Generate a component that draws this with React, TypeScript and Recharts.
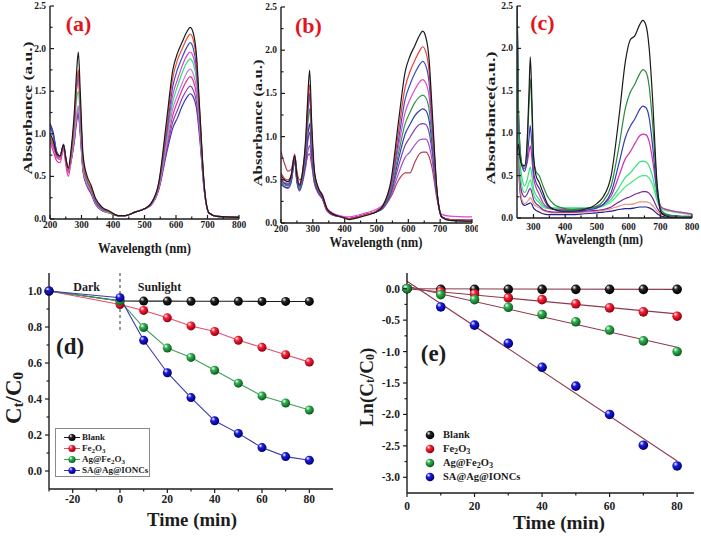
import React from 'react';
import { LineChart, Line, XAxis, YAxis, Label, ReferenceDot, ReferenceLine, Legend } from 'recharts';

const FONT = '"Liberation Serif", "DejaVu Serif", serif';
const INK = '#1c1c1c';
const AXIS = { stroke: INK, strokeWidth: 1.4 };

// ---------- (a) and (b): absorbance spectra ----------
const wlAB = [200, 210, 222, 232, 243, 250, 258, 268, 278, 284, 290, 296, 305, 318, 330, 345, 365, 390, 415, 440, 470, 500, 520, 545, 570, 590, 605, 620, 635, 645, 655, 665, 675, 690, 705, 730, 800];

const aBlack = [1.0, 0.92, 0.76, 0.74, 0.87, 0.72, 0.6, 0.85, 1.3, 1.7, 1.96, 1.5, 0.75, 0.5, 0.4, 0.24, 0.14, 0.09, 0.04, 0.04, 0.08, 0.12, 0.18, 0.42, 1.15, 1.75, 1.95, 2.08, 2.2, 2.25, 2.18, 1.92, 1.3, 0.38, 0.07, 0.03, 0.02];
const aRed = [0.95, 0.88, 0.74, 0.72, 0.86, 0.7, 0.57, 0.8, 1.2, 1.55, 1.75, 1.35, 0.7, 0.46, 0.37, 0.22, 0.13, 0.08, 0.04, 0.04, 0.08, 0.12, 0.18, 0.41, 1.08, 1.66, 1.87, 2.0, 2.12, 2.17, 2.1, 1.86, 1.27, 0.37, 0.07, 0.03, 0.02];
const aBlue = [1.12, 1.0, 0.78, 0.74, 0.88, 0.72, 0.58, 0.8, 1.18, 1.52, 1.72, 1.33, 0.68, 0.45, 0.36, 0.2, 0.12, 0.08, 0.04, 0.04, 0.08, 0.12, 0.17, 0.4, 1.02, 1.56, 1.76, 1.9, 2.02, 2.07, 2.0, 1.78, 1.23, 0.36, 0.07, 0.03, 0.02];
const aMagenta = [0.92, 0.85, 0.72, 0.7, 0.85, 0.68, 0.54, 0.78, 1.15, 1.5, 1.68, 1.3, 0.66, 0.44, 0.35, 0.2, 0.12, 0.08, 0.04, 0.04, 0.08, 0.12, 0.17, 0.39, 0.97, 1.46, 1.64, 1.8, 1.92, 1.96, 1.9, 1.7, 1.19, 0.36, 0.07, 0.03, 0.02];
const aGreen = [1.0, 0.9, 0.75, 0.72, 0.86, 0.7, 0.56, 0.76, 1.08, 1.38, 1.5, 1.18, 0.62, 0.42, 0.34, 0.19, 0.11, 0.07, 0.04, 0.04, 0.08, 0.12, 0.17, 0.38, 0.93, 1.38, 1.56, 1.72, 1.84, 1.88, 1.82, 1.63, 1.15, 0.35, 0.07, 0.03, 0.02];
const aOrchid = [0.95, 0.86, 0.72, 0.7, 0.84, 0.68, 0.55, 0.72, 1.0, 1.22, 1.33, 1.08, 0.6, 0.41, 0.33, 0.18, 0.11, 0.07, 0.04, 0.04, 0.08, 0.12, 0.16, 0.37, 0.88, 1.3, 1.46, 1.6, 1.72, 1.76, 1.7, 1.53, 1.1, 0.34, 0.07, 0.03, 0.02];
const aPink = [0.9, 0.8, 0.68, 0.66, 0.82, 0.64, 0.5, 0.7, 0.98, 1.2, 1.3, 1.05, 0.58, 0.4, 0.32, 0.18, 0.1, 0.07, 0.04, 0.04, 0.08, 0.12, 0.16, 0.36, 0.84, 1.22, 1.38, 1.52, 1.63, 1.67, 1.62, 1.46, 1.06, 0.34, 0.07, 0.03, 0.02];
const aPurple = [1.08, 0.98, 0.76, 0.72, 0.86, 0.7, 0.56, 0.7, 0.95, 1.16, 1.25, 1.02, 0.56, 0.39, 0.31, 0.17, 0.1, 0.07, 0.04, 0.04, 0.08, 0.12, 0.16, 0.35, 0.8, 1.14, 1.28, 1.42, 1.52, 1.56, 1.51, 1.37, 1.0, 0.33, 0.07, 0.03, 0.02];
const aNavy = [1.12, 1.02, 0.78, 0.74, 0.87, 0.72, 0.58, 0.7, 0.93, 1.13, 1.22, 1.0, 0.55, 0.38, 0.3, 0.17, 0.1, 0.07, 0.04, 0.04, 0.08, 0.12, 0.16, 0.34, 0.77, 1.07, 1.19, 1.33, 1.43, 1.47, 1.43, 1.3, 0.96, 0.32, 0.07, 0.03, 0.02];
const specA = [aNavy, aPurple, aPink, aOrchid, aGreen, aMagenta, aBlue, aRed, aBlack];
const colorsA = ['#3838b8', '#8a3fb0', '#e0309a', '#c080e0', '#30e070', '#d040d8', '#3b4cc0', '#e8503a', '#1a1a1a'];

const bBlack = [0.55, 0.5, 0.48, 0.55, 0.78, 0.55, 0.44, 0.6, 1.0, 1.45, 1.77, 1.2, 0.6, 0.4, 0.32, 0.16, 0.1, 0.07, 0.04, 0.06, 0.09, 0.13, 0.2, 0.48, 1.2, 1.75, 1.93, 2.05, 2.17, 2.22, 2.15, 1.9, 1.3, 0.38, 0.07, 0.03, 0.02];
const bRed = [0.58, 0.52, 0.5, 0.56, 0.8, 0.57, 0.45, 0.6, 0.95, 1.35, 1.6, 1.12, 0.58, 0.39, 0.31, 0.15, 0.1, 0.07, 0.05, 0.07, 0.1, 0.14, 0.2, 0.45, 1.08, 1.57, 1.75, 1.88, 1.99, 2.04, 1.98, 1.76, 1.22, 0.37, 0.07, 0.04, 0.03];
const bBlue = [0.5, 0.46, 0.45, 0.52, 0.76, 0.52, 0.42, 0.56, 0.9, 1.28, 1.5, 1.06, 0.56, 0.38, 0.3, 0.15, 0.1, 0.07, 0.05, 0.07, 0.1, 0.13, 0.19, 0.42, 0.98, 1.43, 1.6, 1.73, 1.83, 1.87, 1.82, 1.63, 1.15, 0.36, 0.07, 0.03, 0.02];
const bMagenta = [0.52, 0.47, 0.46, 0.53, 0.77, 0.53, 0.43, 0.56, 0.88, 1.25, 1.47, 1.04, 0.57, 0.4, 0.33, 0.17, 0.11, 0.08, 0.07, 0.09, 0.12, 0.16, 0.21, 0.41, 0.9, 1.28, 1.43, 1.54, 1.63, 1.66, 1.62, 1.47, 1.06, 0.36, 0.1, 0.08, 0.07];
const bGreen = [0.48, 0.44, 0.43, 0.5, 0.74, 0.5, 0.4, 0.52, 0.82, 1.13, 1.32, 0.95, 0.53, 0.37, 0.3, 0.15, 0.1, 0.07, 0.05, 0.07, 0.1, 0.13, 0.18, 0.38, 0.82, 1.15, 1.28, 1.39, 1.46, 1.48, 1.45, 1.32, 0.97, 0.34, 0.07, 0.04, 0.03];
const bNavy = [0.45, 0.42, 0.41, 0.48, 0.72, 0.48, 0.38, 0.5, 0.76, 1.0, 1.15, 0.85, 0.5, 0.36, 0.29, 0.15, 0.1, 0.07, 0.05, 0.07, 0.1, 0.13, 0.18, 0.36, 0.75, 1.03, 1.14, 1.24, 1.3, 1.32, 1.3, 1.19, 0.9, 0.33, 0.07, 0.04, 0.03];
const bPurple = [0.5, 0.46, 0.44, 0.5, 0.72, 0.5, 0.4, 0.5, 0.72, 0.94, 1.05, 0.8, 0.48, 0.35, 0.28, 0.14, 0.09, 0.07, 0.05, 0.07, 0.1, 0.13, 0.17, 0.34, 0.67, 0.9, 0.99, 1.08, 1.14, 1.15, 1.14, 1.05, 0.82, 0.32, 0.07, 0.04, 0.03];
const bViolet = [0.46, 0.42, 0.4, 0.47, 0.7, 0.47, 0.37, 0.47, 0.66, 0.82, 0.9, 0.72, 0.46, 0.34, 0.28, 0.14, 0.09, 0.07, 0.05, 0.07, 0.1, 0.13, 0.17, 0.32, 0.58, 0.76, 0.82, 0.9, 0.96, 0.97, 0.97, 0.9, 0.72, 0.3, 0.07, 0.04, 0.03];
const bBrown = [0.83, 0.7, 0.6, 0.62, 0.78, 0.6, 0.5, 0.55, 0.68, 0.78, 0.8, 0.68, 0.46, 0.34, 0.28, 0.14, 0.09, 0.07, 0.05, 0.07, 0.1, 0.13, 0.17, 0.3, 0.5, 0.58, 0.58, 0.7, 0.8, 0.82, 0.82, 0.77, 0.63, 0.28, 0.07, 0.04, 0.03];
const specB = [bBrown, bViolet, bPurple, bNavy, bGreen, bMagenta, bBlue, bRed, bBlack];
const colorsB = ['#b04050', '#a050d0', '#7a40b0', '#3a3ab0', '#2a9a4a', '#e048d8', '#3c4ec0', '#e84040', '#1a1a1a'];

// ---------- (c) ----------
const wlC = [248, 252, 258, 265, 272, 280, 286, 290, 295, 300, 308, 318, 330, 345, 365, 390, 420, 460, 500, 520, 545, 570, 590, 605, 620, 635, 645, 655, 665, 675, 690, 705, 730, 760, 800];
const cBlack = [0.75, 0.87, 0.7, 0.62, 0.62, 0.9, 1.5, 1.9, 1.4, 0.75, 0.5, 0.42, 0.3, 0.16, 0.1, 0.08, 0.08, 0.1, 0.17, 0.25, 0.5, 1.2, 1.85, 2.1, 2.15, 2.28, 2.33, 2.27, 2.0, 1.45, 0.4, 0.05, 0.01, 0.0, 0.0];
const cDkGreen = [2.7, 1.4, 0.8, 0.62, 0.6, 0.85, 1.35, 1.64, 1.25, 0.72, 0.55, 0.5, 0.38, 0.25, 0.16, 0.12, 0.1, 0.11, 0.14, 0.2, 0.38, 0.85, 1.3, 1.48, 1.58, 1.7, 1.75, 1.72, 1.55, 1.15, 0.38, 0.08, 0.03, 0.02, 0.01];
const cBlue = [2.7, 1.3, 0.75, 0.6, 0.55, 0.7, 0.95, 1.09, 0.85, 0.55, 0.42, 0.35, 0.25, 0.14, 0.1, 0.08, 0.08, 0.09, 0.12, 0.16, 0.3, 0.65, 0.95, 1.08, 1.17, 1.28, 1.32, 1.3, 1.18, 0.88, 0.3, 0.06, 0.03, 0.02, 0.01];
const cMagenta = [2.7, 1.4, 0.8, 0.6, 0.58, 0.65, 0.78, 0.85, 0.7, 0.48, 0.36, 0.28, 0.18, 0.12, 0.1, 0.1, 0.1, 0.11, 0.13, 0.16, 0.26, 0.5, 0.7, 0.78, 0.88, 0.97, 0.99, 0.98, 0.9, 0.7, 0.3, 0.12, 0.09, 0.07, 0.05];
const cGreen1 = [2.7, 1.2, 0.65, 0.45, 0.38, 0.45, 0.55, 0.6, 0.5, 0.35, 0.27, 0.22, 0.15, 0.12, 0.12, 0.12, 0.12, 0.12, 0.13, 0.15, 0.22, 0.36, 0.48, 0.53, 0.6, 0.66, 0.67, 0.66, 0.61, 0.5, 0.24, 0.12, 0.09, 0.07, 0.05];
const cGreen2 = [2.7, 1.1, 0.55, 0.35, 0.3, 0.35, 0.42, 0.45, 0.38, 0.28, 0.22, 0.18, 0.13, 0.11, 0.11, 0.11, 0.11, 0.11, 0.12, 0.14, 0.19, 0.29, 0.37, 0.41, 0.45, 0.49, 0.5, 0.5, 0.47, 0.4, 0.2, 0.1, 0.08, 0.06, 0.04];
const cPurple = [2.7, 1.0, 0.45, 0.28, 0.25, 0.28, 0.33, 0.35, 0.3, 0.22, 0.17, 0.14, 0.1, 0.08, 0.07, 0.07, 0.07, 0.08, 0.09, 0.1, 0.13, 0.19, 0.23, 0.25, 0.28, 0.3, 0.31, 0.31, 0.29, 0.24, 0.12, 0.05, 0.03, 0.02, 0.02];
const cSalmon = [2.0, 0.8, 0.35, 0.2, 0.17, 0.19, 0.22, 0.24, 0.21, 0.17, 0.14, 0.12, 0.09, 0.07, 0.06, 0.06, 0.06, 0.07, 0.08, 0.09, 0.11, 0.14, 0.16, 0.16, 0.17, 0.19, 0.19, 0.19, 0.18, 0.15, 0.08, 0.04, 0.03, 0.02, 0.02];
const cNavy = [2.7, 0.8, 0.3, 0.17, 0.15, 0.16, 0.17, 0.18, 0.16, 0.12, 0.09, 0.07, 0.05, 0.04, 0.04, 0.04, 0.04, 0.05, 0.06, 0.07, 0.08, 0.1, 0.11, 0.11, 0.12, 0.13, 0.13, 0.13, 0.12, 0.1, 0.05, 0.02, 0.01, 0.01, 0.01];
const specC = [cNavy, cSalmon, cPurple, cGreen2, cGreen1, cMagenta, cBlue, cDkGreen, cBlack];
const colorsC = ['#202090', '#f09080', '#7a2aa0', '#40e880', '#30e07a', '#d030b0', '#3a3ab8', '#2a8a40', '#1a1a1a'];

const ticksAB = [200, 250, 300, 350, 400, 450, 500, 550, 600, 650, 700, 750, 800];
const ticksC = [300, 350, 400, 450, 500, 550, 600, 650, 700, 750, 800];
const ticksAbs = [0, 0.25, 0.5, 0.75, 1.0, 1.25, 1.5, 1.75, 2.0, 2.25, 2.5];

// ---------- (d) Ct/C0 vs time ----------
const tD = [-30, 0, 10, 20, 30, 40, 50, 60, 70, 80];
const dBlank = [1.0, 0.945, 0.944, 0.944, 0.943, 0.943, 0.943, 0.942, 0.942, 0.942];
const dFe = [1.0, 0.925, 0.892, 0.851, 0.806, 0.775, 0.726, 0.687, 0.646, 0.605];
const dAg = [1.0, 0.945, 0.797, 0.683, 0.631, 0.56, 0.488, 0.417, 0.378, 0.339];
const dSA = [1.0, 0.963, 0.726, 0.546, 0.408, 0.279, 0.209, 0.13, 0.08, 0.06];
const ticksTd = [-30, -20, -10, 0, 10, 20, 30, 40, 50, 60, 70, 80];
const ticksCd = [0, 0.1, 0.2, 0.3, 0.4, 0.5, 0.6, 0.7, 0.8, 0.9, 1.0];

// ---------- (e) ln(Ct/C0) vs time ----------
const tE = [0, 10, 20, 30, 40, 50, 60, 70, 80];
const eBlank = [0, -0.01, -0.01, -0.01, -0.01, -0.01, -0.01, -0.01, -0.01];
const eFe = [0, -0.05, -0.084, -0.147, -0.174, -0.24, -0.305, -0.368, -0.437];
const eAg = [0, -0.095, -0.174, -0.295, -0.41, -0.526, -0.658, -0.83, -1.0];
const eSA = [0, -0.29, -0.58, -0.87, -1.25, -1.55, -2.0, -2.49, -2.82];
const fitT = [0, 80];
const fitBlank = [0, -0.01];
const fitFe = [0.0, -0.4];
const fitAg = [0.04, -0.93];
const fitSA = [0.12, -2.74];
const ticksTe = [0, 10, 20, 30, 40, 50, 60, 70, 80];
const ticksLn = [0, -0.25, -0.5, -0.75, -1.0, -1.25, -1.5, -1.75, -2.0, -2.25, -2.5, -2.75, -3.0];

const names = ['Blank', 'Fe2O3', 'Ag@Fe2O3', 'SA@Ag@IONCs'];
const lineColors = ['#1a1a1a', '#e0506a', '#3f9f5a', '#3a3aa8'];
const balls = [
  { mid: '#222', dark: '#000' },
  { mid: '#ff2035', dark: '#8a0010' },
  { mid: '#2fb050', dark: '#0c5a1c' },
  { mid: '#1a1ae0', dark: '#000070' },
];

const isMajor = (v: number, step: number) => Math.abs(v / step - Math.round(v / step)) < 1e-6;

function xTick(step: number, fs: number, gap: number, inward: boolean, fmt: (v: number) => string) {
  return (p: any) => {
    const v = Number(p.payload.value);
    const major = isMajor(v, step);
    const len = major ? 4 : 2.5;
    return (
      <g>
        <line x1={p.x} x2={p.x} y1={p.y} y2={inward ? p.y - len : p.y + len} stroke={INK} strokeWidth={1.2} />
        {major && (
          <text x={p.x} y={p.y + gap} textAnchor="middle" dominantBaseline="hanging" fontSize={fs} fontWeight="bold" fontFamily={FONT} fill={INK}>
            {fmt(v)}
          </text>
        )}
      </g>
    );
  };
}

function yTick(step: number, fs: number, gap: number, inward: boolean, fmt: (v: number) => string) {
  return (p: any) => {
    const v = Number(p.payload.value);
    const major = isMajor(v, step);
    const len = major ? 4 : 2.5;
    return (
      <g>
        <line x1={p.x} x2={inward ? p.x + len : p.x - len} y1={p.y} y2={p.y} stroke={INK} strokeWidth={1.2} />
        {major && (
          <text x={p.x - gap} y={p.y} textAnchor="end" dominantBaseline="central" fontSize={fs} fontWeight="bold" fontFamily={FONT} fill={INK}>
            {fmt(v)}
          </text>
        )}
      </g>
    );
  };
}

type Title = { x: number; y: number; len: number; text: string; fs: number };

const hTitle = (t: Title) => (
  <text x={t.x} y={t.y} textAnchor="middle" fontSize={t.fs} fontWeight="bold" fontFamily={FONT} fill={INK} textLength={t.len} lengthAdjust="spacingAndGlyphs">
    {t.text}
  </text>
);

const vTitle = (t: Title) => (
  <text transform={`translate(${t.x},${t.y}) rotate(-90)`} textAnchor="middle" dominantBaseline="central" fontSize={t.fs} fontWeight="bold" fontFamily={FONT} fill={INK} textLength={t.len} lengthAdjust="spacingAndGlyphs">
    {t.text}
  </text>
);

const tag = (text: string, fs: number, fill: string) => (p: any) => {
  const vb = p.viewBox || {};
  const cx = (vb.x ?? 0) + (vb.width ?? 0) / 2;
  const cy = (vb.y ?? 0) + (vb.height ?? 0) / 2;
  return (
    <text x={cx} y={cy} textAnchor="middle" dominantBaseline="central" fontSize={fs} fontWeight="bold" fontFamily={FONT} fill={fill}>
      {text}
    </text>
  );
};

// subscript digits without growing the line box
const chem = (s: string) =>
  s.split(/(\d)/).map((part, i) =>
    /\d/.test(part) ? (
      <span key={i} style={{ fontSize: '0.78em', position: 'relative', top: '0.3em' }}>{part}</span>
    ) : (
      <span key={i}>{part}</span>
    ),
  );

type SpecProps = {
  left: number;
  width: number;
  mTop: number;
  mRight: number;
  yW: number;
  xH: number;
  wl: number[];
  series: number[][];
  colors: string[];
  xDomain: [number, number];
  xTicks: number[];
  xGap: number;
  letter: [string, number, number];
  xTitle: Title;
  yTitle: Title;
};

function SpecPanel(props: SpecProps) {
  const rows = props.wl.map((w, i) => {
    const r: Record<string, number> = { wl: w };
    props.series.forEach((s, k) => {
      r['s' + k] = s[i];
    });
    return r;
  });
  return (
    <div style={{ position: 'absolute', left: props.left, top: 0 }}>
      <LineChart width={props.width} height={260} data={rows} margin={{ top: props.mTop, right: props.mRight, left: 0, bottom: 0 }}>
        <XAxis dataKey="wl" type="number" domain={props.xDomain} allowDataOverflow ticks={props.xTicks} interval={0} height={props.xH} tickSize={0} tickMargin={0} tickLine={false} axisLine={AXIS} tick={xTick(100, 9.5, props.xGap, true, (v) => String(v))}>
          <Label content={() => hTitle(props.xTitle)} />
        </XAxis>
        <YAxis type="number" domain={[0, 2.5]} allowDataOverflow ticks={ticksAbs} interval={0} width={props.yW} tickSize={0} tickMargin={0} tickLine={false} axisLine={AXIS} tick={yTick(0.5, 9.5, 4, true, (v) => v.toFixed(1))}>
          <Label content={() => vTitle(props.yTitle)} />
        </YAxis>
        <XAxis xAxisId="top" orientation="top" dataKey="wl" type="number" domain={props.xDomain} allowDataOverflow height={0} tick={false} tickLine={false} axisLine={AXIS} />
        <YAxis yAxisId="right" orientation="right" type="number" domain={[0, 2.5]} allowDataOverflow width={0} tick={false} tickLine={false} axisLine={AXIS} />
        {props.series.map((_, k) => (
          <Line key={k} type="monotone" dataKey={'s' + k} stroke={props.colors[k]} strokeWidth={1.2} dot={false} activeDot={false} isAnimationActive={false} />
        ))}
        <ReferenceDot x={props.letter[1]} y={props.letter[2]} r={0} fill="none" stroke="none">
          <Label content={tag(props.letter[0], 22, '#e3141e')} />
        </ReferenceDot>
      </LineChart>
    </div>
  );
}

function BallDefs({ prefix }: { prefix: string }) {
  return (
    <defs>
      {balls.map((b, i) => (
        <radialGradient key={i} id={`${prefix}${i}`} cx="40%" cy="38%" r="62%" fx="32%" fy="28%">
          <stop offset="0%" stopColor="#ffffff" />
          <stop offset="38%" stopColor={b.mid} />
          <stop offset="100%" stopColor={b.dark} />
        </radialGradient>
      ))}
    </defs>
  );
}

function LegendD() {
  return (
    <div style={{ border: '1px solid #8a8a8a', background: '#fff', padding: '3px 4px 2px 8px', fontFamily: FONT, fontWeight: 700, fontSize: 9, color: INK, width: 95, height: 49, boxSizing: 'border-box' }}>
      {names.map((n, i) => (
        <div key={n} style={{ display: 'flex', alignItems: 'center', height: 11, lineHeight: '11px' }}>
          <svg width={16} height={9} style={{ flex: 'none' }}>
            <line x1={0} x2={16} y1={4.5} y2={4.5} stroke={lineColors[i]} strokeWidth={1} />
            <circle cx={8} cy={4.5} r={3.6} fill={`url(#dBall${i})`} />
          </svg>
          <span style={{ marginLeft: 2 }}>{chem(n)}</span>
        </div>
      ))}
    </div>
  );
}

function LegendE() {
  return (
    <div style={{ fontFamily: FONT, fontWeight: 700, fontSize: 10.5, color: INK }}>
      {names.map((n, i) => (
        <div key={n} style={{ display: 'flex', alignItems: 'center', height: 14, lineHeight: '14px' }}>
          <svg width={10} height={10} style={{ flex: 'none' }}>
            <circle cx={5} cy={5} r={4.3} fill={`url(#eBall${i})`} />
          </svg>
          <span style={{ marginLeft: 8 }}>{chem(n)}</span>
        </div>
      ))}
    </div>
  );
}

function PanelD() {
  const rows = tD.map((t, i) => ({ t, blank: dBlank[i], fe: dFe[i], ag: dAg[i], sa: dSA[i] }));
  const keys = ['blank', 'fe', 'ag', 'sa'];
  return (
    <div style={{ position: 'absolute', left: 0, top: 255 }}>
      <LineChart width={345} height={281} data={rows} margin={{ top: 18, right: 12, left: 0, bottom: 0 }}>
        <BallDefs prefix="dBall" />
        <XAxis dataKey="t" type="number" domain={[-30, 90]} ticks={ticksTd} interval={0} height={47} tickSize={0} tickMargin={0} tickLine={false} axisLine={AXIS} tick={xTick(20, 11.5, 6, false, (v) => String(v))}>
          <Label content={() => hTitle({ x: 192, y: 271, len: 90, text: 'Time (min)', fs: 19 })} />
        </XAxis>
        <YAxis type="number" domain={[-0.1, 1.1]} ticks={ticksCd} interval={0} width={49} tickSize={0} tickMargin={0} tickLine={false} axisLine={AXIS} tick={yTick(0.2, 11.5, 7, false, (v) => v.toFixed(1))}>
          <Label
            content={() => (
              <text transform="translate(13,143) rotate(-90)" textAnchor="middle" dominantBaseline="central" fontWeight="bold" fontFamily={FONT} fill={INK} fontSize={23}>
                C<tspan fontSize={15} dy={5}>t</tspan>
                <tspan dy={-5}>/C</tspan>
                <tspan fontSize={15} dy={5}>0</tspan>
              </text>
            )}
          />
        </YAxis>
        <XAxis xAxisId="top" orientation="top" dataKey="t" type="number" domain={[-30, 90]} height={0} tick={false} tickLine={false} axisLine={AXIS} />
        <YAxis yAxisId="right" orientation="right" type="number" domain={[-0.1, 1.1]} width={0} tick={false} tickLine={false} axisLine={AXIS} />
        <ReferenceLine segment={[{ x: 0, y: 1.1 }, { x: 0, y: 0.77 }]} stroke="#333" strokeDasharray="3 3" strokeWidth={1} />
        {keys.map((k, i) => (
          <Line key={k} type="linear" dataKey={k} stroke={lineColors[i]} strokeWidth={1.1} dot={{ r: 4.5, fill: `url(#dBall${i})`, stroke: 'none' }} activeDot={false} isAnimationActive={false} />
        ))}
        <ReferenceDot x={-14.1} y={1.022} r={0} fill="none" stroke="none">
          <Label content={tag('Dark', 12, INK)} />
        </ReferenceDot>
        <ReferenceDot x={16.7} y={1.022} r={0} fill="none" stroke="none">
          <Label content={tag('Sunlight', 12, INK)} />
        </ReferenceDot>
        <ReferenceDot x={-21.1} y={0.694} r={0} fill="none" stroke="none">
          <Label content={tag('(d)', 23, INK)} />
        </ReferenceDot>
        <Legend layout="vertical" align="center" verticalAlign="middle" wrapperStyle={{ left: 55, top: 173, width: 95, height: 49 }} content={() => <LegendD />} />
      </LineChart>
    </div>
  );
}

function PanelE() {
  const rows = tE.map((t, i) => ({ t, blank: eBlank[i], fe: eFe[i], ag: eAg[i], sa: eSA[i] }));
  const fits = [fitBlank, fitFe, fitAg, fitSA].map((f) => fitT.map((t, i) => ({ t, fit: f[i] })));
  const order = [0, 1, 3, 2];
  const keys = ['blank', 'fe', 'ag', 'sa'];
  return (
    <div style={{ position: 'absolute', left: 355, top: 255 }}>
      <LineChart width={346} height={281} data={rows} margin={{ top: 18, right: 7, left: 0, bottom: 0 }}>
        <BallDefs prefix="eBall" />
        <XAxis dataKey="t" type="number" domain={[0, 85]} ticks={ticksTe} interval={0} height={43} tickSize={0} tickMargin={0} tickLine={false} axisLine={AXIS} tick={xTick(20, 11.5, 9, false, (v) => String(v))}>
          <Label content={() => hTitle({ x: 204, y: 274, len: 92, text: 'Time (min)', fs: 19 })} />
        </XAxis>
        <YAxis type="number" domain={[-3.25, 0.25]} ticks={ticksLn} interval={0} width={52} tickSize={0} tickMargin={0} tickLine={false} axisLine={AXIS} tick={yTick(0.5, 11.5, 7, false, (v) => v.toFixed(1))}>
          <Label
            content={() => (
              <text transform="translate(11,132) rotate(-90)" textAnchor="middle" dominantBaseline="central" fontWeight="bold" fontFamily={FONT} fill={INK} fontSize={19}>
                Ln(C<tspan fontSize={12} dy={4}>t</tspan>
                <tspan dy={-4}>/C</tspan>
                <tspan fontSize={12} dy={4}>0</tspan>
                <tspan dy={-4}>)</tspan>
              </text>
            )}
          />
        </YAxis>
        <XAxis xAxisId="top" orientation="top" dataKey="t" type="number" domain={[0, 85]} height={0} tick={false} tickLine={false} axisLine={AXIS} />
        <YAxis yAxisId="right" orientation="right" type="number" domain={[-3.25, 0.25]} width={0} tick={false} tickLine={false} axisLine={AXIS} />
        {fits.map((f, i) => (
          <Line key={'fit' + i} data={f} type="linear" dataKey="fit" stroke="#8c3a4a" strokeWidth={1.1} dot={false} activeDot={false} legendType="none" isAnimationActive={false} />
        ))}
        {order.map((i) => (
          <Line key={keys[i]} type="linear" dataKey={keys[i]} stroke="none" dot={{ r: 4.8, fill: `url(#eBall${i})`, stroke: 'none' }} activeDot={false} isAnimationActive={false} />
        ))}
        <ReferenceDot x={7.85} y={-1.023} r={0} fill="none" stroke="none">
          <Label content={tag('(e)', 23, INK)} />
        </ReferenceDot>
        <Legend layout="vertical" align="center" verticalAlign="middle" wrapperStyle={{ left: 70, top: 173, width: 120 }} content={() => <LegendE />} />
      </LineChart>
    </div>
  );
}

export default function App() {
  return (
    <div style={{ position: 'absolute', left: 0, top: 0, width: 701, height: 536, background: '#fff', overflow: 'hidden' }}>
      <SpecPanel
        left={0}
        width={248}
        mTop={6}
        mRight={9}
        yW={50}
        xH={41}
        wl={wlAB}
        series={specA}
        colors={colorsA}
        xDomain={[200, 800]}
        xTicks={ticksAB}
        xGap={3}
        letter={['(a)', 290.5, 2.29]}
        xTitle={{ x: 144.5, y: 253, len: 93, text: 'Wavelength (nm)', fs: 14 }}
        yTitle={{ x: 27.5, y: 108, len: 133, text: 'Absorbance (a.u.)', fs: 13 }}
      />
      <SpecPanel
        left={230}
        width={248}
        mTop={7}
        mRight={6}
        yW={51}
        xH={37}
        wl={wlAB}
        series={specB}
        colors={colorsB}
        xDomain={[200, 800]}
        xTicks={ticksAB}
        xGap={3}
        letter={['(b)', 286, 2.29]}
        xTitle={{ x: 146, y: 247, len: 93, text: 'Wavelength (nm)', fs: 14 }}
        yTitle={{ x: 27.5, y: 123, len: 127, text: 'Absorbance (a.u.)', fs: 13 }}
      />
      <SpecPanel
        left={470}
        width={231}
        mTop={6}
        mRight={9}
        yW={47}
        xH={42}
        wl={wlC}
        series={specC}
        colors={colorsC}
        xDomain={[248, 800]}
        xTicks={ticksC}
        xGap={6}
        letter={['(c)', 328, 2.305]}
        xTitle={{ x: 129, y: 244, len: 88, text: 'Wavelength (nm)', fs: 14 }}
        yTitle={{ x: 20, y: 118, len: 133, text: 'Absorbance(a.u.)', fs: 13 }}
      />
      <PanelD />
      <PanelE />
    </div>
  );
}
